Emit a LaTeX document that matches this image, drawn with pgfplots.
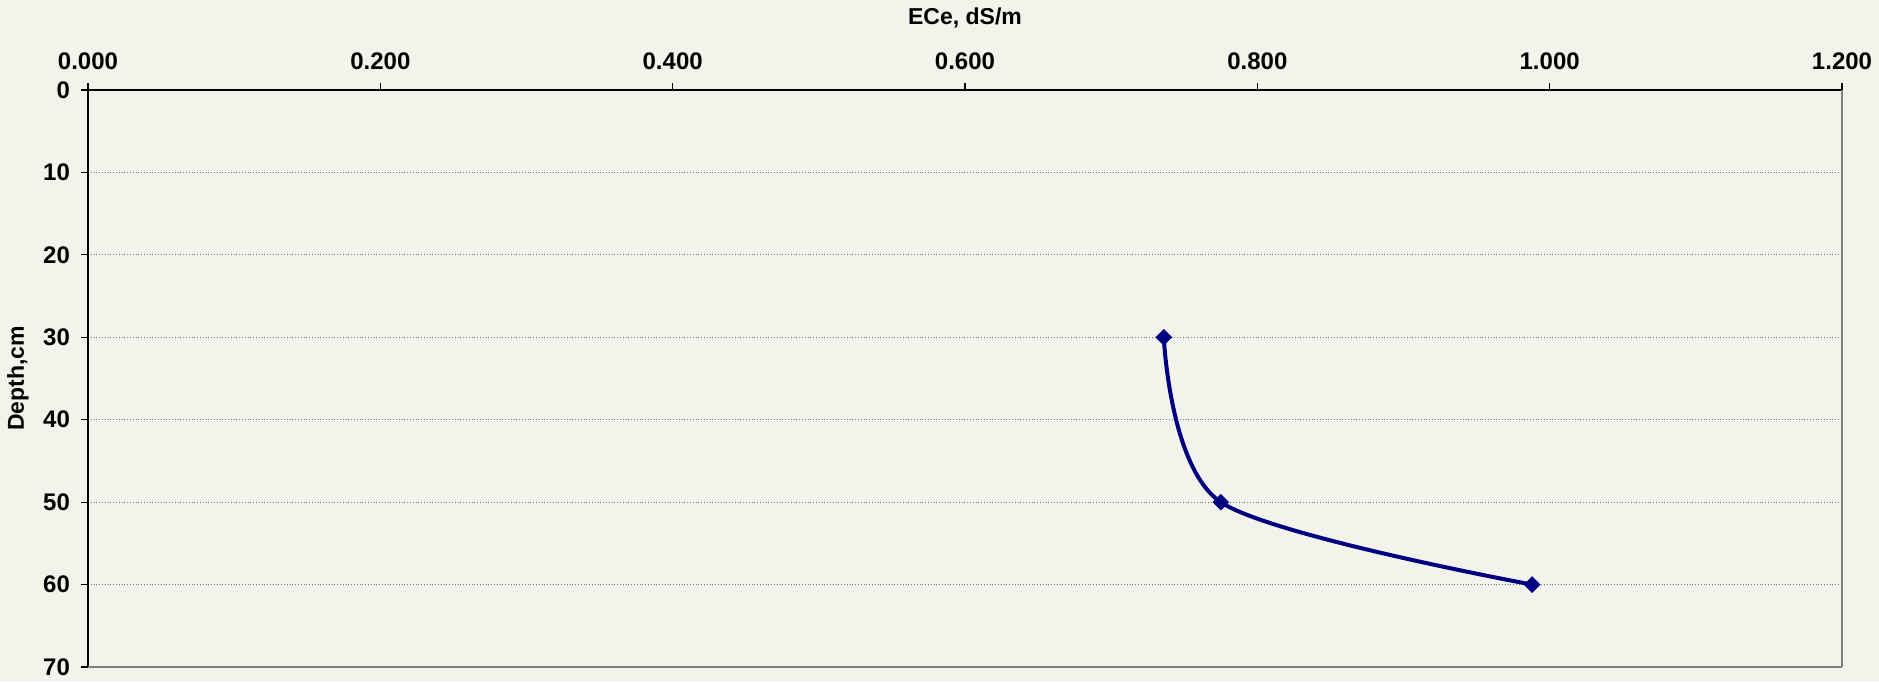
\documentclass[border=0pt]{standalone}
\usepackage{pgfplots}
\pgfplotsset{compat=1.18}
\usepackage{fontspec}
\setmainfont{Liberation Sans}
\definecolor{bgc}{HTML}{F3F3EC}
\definecolor{navyline}{HTML}{000080}

\begin{document}
\begin{tikzpicture}
	% page background
	\fill[bgc] (-44pt,-7.5pt) rectangle (895.5pt,333.5pt);
	\begin{axis}[
	scale only axis,
	width  = 877pt,
	height = 288.5pt,
	xmin=0, xmax=1.2,
	ymin=0, ymax=70,
	y dir=reverse,
	axis x line=top,
	axis y line=left,
	axis line style={-, black, line width=1pt},
	tick align=outside,
	major tick length=3.5pt,
	tick style={black, line width=0.6pt},
	xtick={0,0.2,0.4,0.6,0.8,1.0,1.2},
	ytick={0,10,20,30,40,50,60,70},
	/pgf/number format/assume math mode=true,
	xticklabel style={yshift=3pt, /pgf/number format/.cd, fixed, fixed zerofill, precision=3},
	yticklabel style={xshift=-2pt},
	ticklabel style={font=\fontsize{12}{14}\selectfont\bfseries},
	ymajorgrids = true,
	grid style={black!55, densely dotted, line width=0.5pt},
	xlabel = {ECe, dS/m},
	ylabel = {Depth,cm},
	label style={font=\fontsize{11.5}{13}\selectfont\bfseries},
	xlabel style={at={(axis description cs:0.5,1.125)}, anchor=center},
	ylabel style={at={(axis description cs:-0.04,0.5)}, anchor=center},
	clip=false
	]
	\addplot[navyline, line width=2pt, smooth, mark=square*, mark size=2.7pt,
		mark options={rotate=45, fill=navyline, draw=navyline, line width=0.5pt}]
	coordinates {(0.736,30) (0.775,50) (0.988,60)};
	% right and bottom frame in grey
	\draw[gray, line width=1pt] (rel axis cs:1,0) -- (rel axis cs:1,1);
	\draw[gray, line width=1pt] (rel axis cs:0,0) -- (rel axis cs:1,0);
	\end{axis}
\end{tikzpicture}
\end{document}
